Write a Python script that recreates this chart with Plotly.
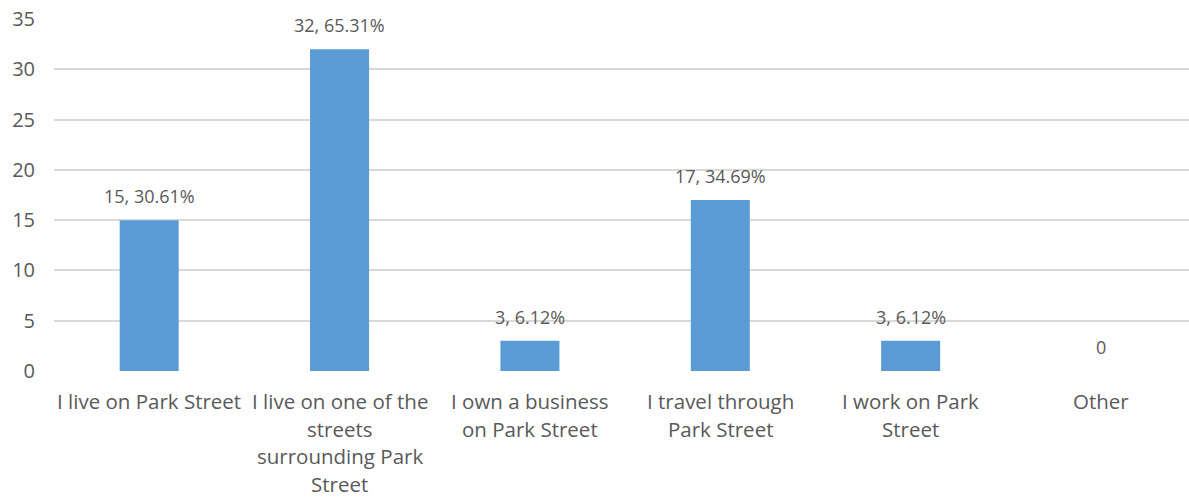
import plotly.graph_objects as go

categories = [
    "I live on Park Street",
    "I live on one of the<br>streets<br>surrounding Park<br>Street",
    "I own a business<br>on Park Street",
    "I travel through<br>Park Street",
    "I work on Park<br>Street",
    "Other",
]
counts = [15, 32, 3, 17, 3, 0]
percents = ["30.61%", "65.31%", "6.12%", "34.69%", "6.12%", ""]
y_ticks = [0, 5, 10, 15, 20, 25, 30, 35]

TEXT = "#595959"
FONT = "Open Sans"

labels = [f"{c}, {p}" if p else f"{c}" for c, p in zip(counts, percents)]
x_idx = list(range(len(categories)))

fig = go.Figure(
    go.Bar(
        x=x_idx,
        y=counts,
        width=0.31,
        marker=dict(color="#5B9BD5", line=dict(width=0)),
        hoverinfo="skip",
    )
)

# value labels above each bar
for xi, v, lab in zip(x_idx, counts, labels):
    fig.add_annotation(
        x=xi, y=v, text=lab, showarrow=False,
        yanchor="middle", yshift=24,
        font=dict(family=FONT, size=18, color=TEXT),
    )

# category labels, one line at a time for wider line spacing
for xi, cat in zip(x_idx, categories):
    for i, line in enumerate(cat.split("<br>")):
        fig.add_annotation(
            x=xi, xref="x", y=0, yref="paper", text=line, showarrow=False,
            yanchor="middle", yshift=-(30 + 27.5 * i), borderpad=0,
            font=dict(family=FONT, size=20.5, color=TEXT),
        )

fig.update_layout(
    width=1189,
    height=500,
    margin=dict(l=54, r=0, t=19, b=129),
    paper_bgcolor="white",
    plot_bgcolor="white",
    showlegend=False,
    font=dict(family=FONT, color=TEXT),
)
fig.update_xaxes(
    tickmode="array",
    tickvals=x_idx,
    showticklabels=False,
    range=[-0.5, 5.462],
    showgrid=False,
    zeroline=False,
    showline=False,
)
fig.update_yaxes(
    range=[0, 35],
    tickmode="array",
    tickvals=y_ticks,
    showgrid=True,
    gridcolor="#D9D9D9",
    gridwidth=1.5,
    zeroline=False,
    showline=False,
    ticks="outside",
    ticklen=14,
    tickcolor="rgba(0,0,0,0)",
    tickfont=dict(family=FONT, size=20, color=TEXT),
)

fig.write_html("out.html")
